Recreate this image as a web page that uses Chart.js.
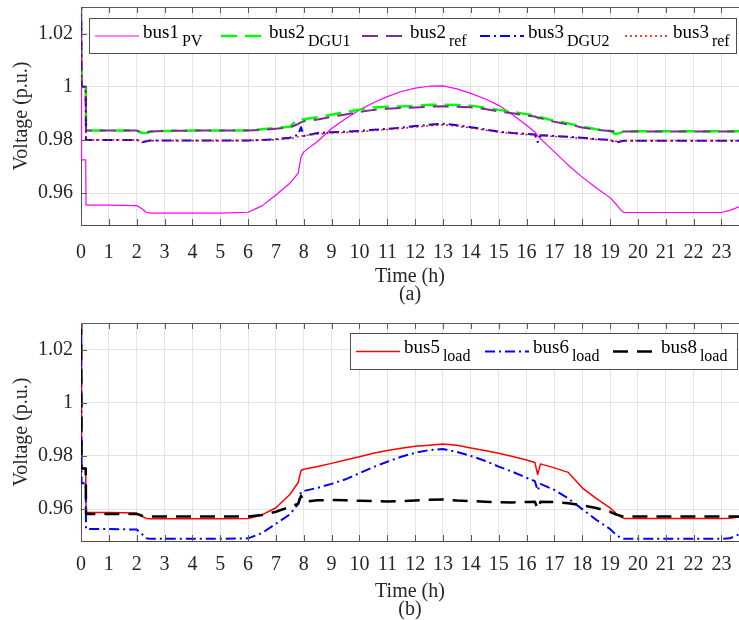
<!DOCTYPE html>
<html>
<head>
<meta charset="utf-8">
<script src="https://cdn.jsdelivr.net/npm/chart.js@4/dist/chart.umd.min.js"></script>
<style>
  html, body { margin: 0; padding: 0; background: #fff; }
  #wrap { position: relative; width: 739px; height: 620px; overflow: hidden; background: #fff; }
  #wrap canvas { position: absolute; left: 0; }
</style>
</head>
<body>
<div id="wrap">
  <canvas id="panelA" width="739" height="310" style="top:0px"></canvas>
  <canvas id="panelB" width="739" height="310" style="top:310px"></canvas>
</div>
<script>
// Sample times (h), shared by every series below
const hours = [
  0, 0.02, 0.17, 0.18,
  1, 2, 2.2, 2.35, 2.5, 3, 4, 5, 6,
  6.5, 7, 7.5, 7.8, 7.9, 8, 8.5, 9, 9.5, 10,
  10.5, 11, 11.5, 12, 12.5, 13, 13.5, 14, 14.5, 15,
  15.5, 16, 16.3, 16.4, 16.5, 17, 17.5, 18, 18.5, 19,
  19.2, 19.4, 19.5, 20, 21, 22, 23, 23.3, 23.63
];

const hourTicks = [0, 1, 2, 3, 4, 5, 6, 7, 8, 9, 10, 11, 12, 13, 14, 15, 16, 17, 18, 19, 20, 21, 22, 23];
const voltTicks = [0.96, 0.98, 1, 1.02];
const voltTickLabels = ['0.96', '0.98', '1', '1.02'];

// (a) source / reference bus voltages (p.u.)
const bus1PV = [
  1.000, 0.9725, 0.9725, 0.9555,
  0.9555, 0.9553, 0.9540, 0.9527, 0.9525, 0.9525, 0.9525, 0.9525, 0.9528,
  0.9552, 0.9593, 0.9637, 0.9675, 0.9735, 0.9755, 0.9795, 0.9843, 0.9880, 0.9913,
  0.9940, 0.9963, 0.9982, 0.9995, 1.0002, 1.0003, 0.9992, 0.9975, 0.9955, 0.9930,
  0.9895, 0.9855, 0.9830, 0.9815, 0.9805, 0.9755, 0.9705, 0.9660, 0.9620, 0.9583,
  0.9560, 0.9535, 0.9527, 0.9527, 0.9527, 0.9527, 0.9527, 0.9535, 0.9548
];
const bus2DGU1 = [
  1.040, 1.000, 1.000, 0.9835,
  0.9835, 0.9835, 0.9826, 0.9826, 0.9832, 0.9834, 0.9835, 0.9835, 0.9836,
  0.9840, 0.9845, 0.9850, 0.9878, 0.9876, 0.9878, 0.9885, 0.9895, 0.9905, 0.9914,
  0.9922, 0.9925, 0.9926, 0.9928, 0.9932, 0.9933, 0.9931, 0.9929, 0.9922, 0.9913,
  0.9905, 0.9897, 0.9892, 0.9878, 0.9885, 0.9872, 0.9862, 0.9850, 0.9840, 0.9834,
  0.9822, 0.9828, 0.9832, 0.9833, 0.9833, 0.9833, 0.9833, 0.9833, 0.9833
];
const bus2ref = [
  1.040, 1.000, 1.000, 0.9835,
  0.9835, 0.9835, 0.9828, 0.9828, 0.9832, 0.9834, 0.9835, 0.9835, 0.9835,
  0.9838, 0.9842, 0.9847, 0.9860, 0.9866, 0.9870, 0.9877, 0.9887, 0.9896, 0.9905,
  0.9913, 0.9917, 0.9920, 0.9922, 0.9925, 0.9927, 0.9925, 0.9923, 0.9916, 0.9907,
  0.9900, 0.9892, 0.9888, 0.9884, 0.9882, 0.9868, 0.9858, 0.9847, 0.9838, 0.9834,
  0.9832, 0.9832, 0.9832, 0.9832, 0.9832, 0.9832, 0.9832, 0.9832, 0.9832
];
const bus3DGU2 = [
  1.040, 1.000, 1.000, 0.9800,
  0.9800, 0.9800, 0.9791, 0.9795, 0.9798, 0.9798, 0.9798, 0.9798, 0.9798,
  0.9800, 0.9803, 0.9808, 0.9820, 0.9848, 0.9815, 0.9826, 0.9829, 0.9831, 0.9834,
  0.9838, 0.9842, 0.9846, 0.9852, 0.9857, 0.9861, 0.9855, 0.9848, 0.9840, 0.9831,
  0.9826, 0.9823, 0.9820, 0.9792, 0.9818, 0.9815, 0.9812, 0.9808, 0.9803, 0.9800,
  0.9789, 0.9795, 0.9797, 0.9797, 0.9797, 0.9797, 0.9797, 0.9797, 0.9797
];
const bus3ref = [
  1.040, 1.000, 1.000, 0.9800,
  0.9800, 0.9800, 0.9793, 0.9795, 0.9797, 0.9797, 0.9797, 0.9797, 0.9797,
  0.9799, 0.9801, 0.9805, 0.9812, 0.9815, 0.9816, 0.9822, 0.9826, 0.9828, 0.9831,
  0.9835, 0.9839, 0.9843, 0.9848, 0.9853, 0.9857, 0.9852, 0.9845, 0.9837, 0.9829,
  0.9824, 0.9820, 0.9818, 0.9815, 0.9816, 0.9813, 0.9810, 0.9806, 0.9802, 0.9799,
  0.9795, 0.9796, 0.9797, 0.9797, 0.9797, 0.9797, 0.9797, 0.9797, 0.9797
];

// (b) load bus voltages (p.u.)
const bus5load = [
  1.040, 0.9753, 0.9753, 0.9587,
  0.9587, 0.9585, 0.9572, 0.9565, 0.9564, 0.9564, 0.9564, 0.9564, 0.9565,
  0.9578, 0.9605, 0.9655, 0.9700, 0.9745, 0.9750, 0.9760, 0.9772, 0.9785, 0.9797,
  0.9810, 0.9820, 0.9829, 0.9836, 0.9840, 0.9845, 0.9840, 0.9830, 0.9820, 0.9810,
  0.9798, 0.9785, 0.9775, 0.9730, 0.9770, 0.9755, 0.9738, 0.9680, 0.9640, 0.9605,
  0.9585, 0.9570, 0.9565, 0.9565, 0.9565, 0.9565, 0.9565, 0.9566, 0.9570
];
const bus6load = [
  1.040, 0.9697, 0.9697, 0.9525,
  0.9525, 0.9523, 0.9505, 0.9490, 0.9488, 0.9488, 0.9488, 0.9488, 0.9490,
  0.9510, 0.9545, 0.9580, 0.9620, 0.9665, 0.9668, 0.9680, 0.9695, 0.9712, 0.9735,
  0.9758, 0.9778, 0.9797, 0.9812, 0.9822, 0.9826, 0.9815, 0.9800, 0.9782, 0.9760,
  0.9740, 0.9718, 0.9705, 0.9670, 0.9695, 0.9672, 0.9640, 0.9600, 0.9560, 0.9525,
  0.9505, 0.9490, 0.9488, 0.9488, 0.9488, 0.9488, 0.9488, 0.9490, 0.9505
];
const bus8load = [
  1.040, 0.9753, 0.9753, 0.9582,
  0.9582, 0.9582, 0.9575, 0.9572, 0.9572, 0.9572, 0.9572, 0.9572, 0.9572,
  0.9578, 0.9590, 0.9608, 0.9620, 0.9650, 0.9628, 0.9633, 0.9634, 0.9633, 0.9631,
  0.9630, 0.9629, 0.9630, 0.9632, 0.9635, 0.9636, 0.9632, 0.9630, 0.9628, 0.9626,
  0.9625, 0.9627, 0.9628, 0.9600, 0.9628, 0.9627, 0.9622, 0.9614, 0.9604, 0.9590,
  0.9580, 0.9574, 0.9572, 0.9572, 0.9572, 0.9572, 0.9572, 0.9572, 0.9572
];

// Legend names, split into base text and subscript
const namesA = ['bus1', 'bus2', 'bus2', 'bus3', 'bus3'];
const subsA = ['PV', 'DGU1', 'ref', 'DGU2', 'ref'];
const namesB = ['bus5', 'bus6', 'bus8'];
const subsB = ['load', 'load', 'load'];

const SERIF = '"Liberation Serif", "Times New Roman", serif';
const INK = '#262626';

function series(values) {
  return hours.map((h, i) => ({ x: h, y: values[i] }));
}

function lineSet(values, color, width, dash, order, extra) {
  return Object.assign({
    data: series(values),
    borderColor: color,
    borderWidth: width,
    borderDash: dash,
    order: order,
    pointRadius: 0,
    tension: 0,
    fill: false,
    borderJoinStyle: 'round'
  }, extra || {});
}

// Box outline on top plus inward tick marks
const framePlugin = {
  id: 'frame',
  afterDraw(chart) {
    const { ctx, chartArea: a, scales } = chart;
    const x = scales.x, y = scales.y;
    ctx.save();
    ctx.strokeStyle = '#5a5a5a';
    ctx.lineWidth = 1;
    ctx.beginPath();
    ctx.moveTo(a.left, a.top + 0.5);
    ctx.lineTo(a.right, a.top + 0.5);
    hourTicks.forEach(h => {
      const px = Math.round(x.getPixelForValue(h)) + 0.5;
      ctx.moveTo(px, a.bottom);
      ctx.lineTo(px, a.bottom - 6);
      ctx.moveTo(px, a.top);
      ctx.lineTo(px, a.top + 6);
    });
    voltTicks.forEach(v => {
      const py = Math.round(y.getPixelForValue(v)) + 0.5;
      ctx.moveTo(a.left, py);
      ctx.lineTo(a.left + 6, py);
    });
    ctx.stroke();
    ctx.restore();
  }
};

// Boxed legend with subscripted names
const subLegendPlugin = {
  id: 'subLegend',
  afterDraw(chart, args, opts) {
    const ctx = chart.ctx;
    const b = opts.box;
    ctx.save();
    ctx.fillStyle = '#ffffff';
    ctx.fillRect(b.x, b.y, b.w, b.h);
    ctx.strokeStyle = '#4d4d4d';
    ctx.lineWidth = 1;
    ctx.strokeRect(b.x + 0.5, b.y + 0.5, b.w, b.h);
    const midY = b.y + b.h / 2 + 0.5;
    opts.names.forEach((name, i) => {
      const ds = chart.data.datasets[i];
      const x0 = opts.sampleX[i];
      ctx.strokeStyle = ds.borderColor;
      ctx.lineWidth = ds.borderWidth;
      ctx.setLineDash(ds.borderDash || []);
      ctx.lineDashOffset = 0;
      ctx.beginPath();
      ctx.moveTo(x0, midY);
      ctx.lineTo(x0 + 44, midY);
      ctx.stroke();
      ctx.setLineDash([]);
      ctx.fillStyle = '#000';
      ctx.textBaseline = 'alphabetic';
      ctx.textAlign = 'left';
      ctx.font = '19px ' + SERIF;
      const tx = x0 + 48;
      ctx.fillText(name, tx, b.y + 20);
      const w = ctx.measureText(name).width;
      ctx.font = '16px ' + SERIF;
      ctx.fillText(opts.subs[i], tx + w + 3, b.y + 28);
    });
    ctx.restore();
  }
};

function makePanel(id, datasets, cfg) {
  return new Chart(document.getElementById(id), {
    type: 'line',
    data: { datasets: datasets },
    options: {
      responsive: false,
      animation: false,
      devicePixelRatio: 1,
      layout: { padding: { top: cfg.top, left: 0, right: 0, bottom: 0 } },
      plugins: {
        legend: { display: false },
        tooltip: { enabled: false },
        subLegend: cfg.legend
      },
      scales: {
        x: {
          type: 'linear',
          min: 0,
          max: 23.63,
          afterBuildTicks: s => { s.ticks = hourTicks.map(v => ({ value: v })); },
          afterFit: s => {
            s.height = cfg.xHeight;
            s.paddingLeft = 0;
            s.paddingRight = 0;
          },
          grid: { color: '#e3e3e3', lineWidth: 1, drawTicks: false },
          border: { color: '#4d4d4d', width: 1 },
          ticks: {
            padding: cfg.tickPad, color: INK, maxRotation: 0, autoSkip: false,
            font: { family: SERIF, size: 20 },
            callback: v => String(v)
          },
          title: {
            display: true,
            text: ['Time (h)', cfg.tag],
            color: INK,
            font: { family: SERIF, size: 20, lineHeight: '18px' },
            padding: { top: 0, bottom: cfg.titlePad }
          }
        },
        y: {
          min: 0.948,
          max: 1.03,
          afterBuildTicks: s => { s.ticks = voltTicks.map(v => ({ value: v })); },
          afterFit: s => {
            s.width = 81;
            s.paddingTop = 0;
            s.paddingBottom = 0;
          },
          grid: { color: '#e3e3e3', lineWidth: 1, drawTicks: false },
          border: { color: '#4d4d4d', width: 1 },
          ticks: {
            padding: 8, color: INK,
            font: { family: SERIF, size: 20 },
            callback: (v, i) => voltTickLabels[i]
          },
          title: {
            display: true,
            text: 'Voltage (p.u.)',
            color: INK,
            font: { family: SERIF, size: 20 },
            padding: { top: 10, bottom: 0 }
          }
        }
      }
    },
    plugins: [framePlugin, subLegendPlugin]
  });
}

makePanel('panelA', [
  lineSet(bus1PV, '#ff00ff', 1.2, [], 5),
  lineSet(bus2DGU1, '#00ff00', 2.5, [16, 8], 4, { borderDashOffset: 10 }),
  lineSet(bus2ref, '#7e2f8e', 2, [16, 8], 3),
  lineSet(bus3DGU2, '#0000ff', 2, [10, 4, 2, 4], 2),
  lineSet(bus3ref, '#ff0000', 1.5, [2, 3], 1)
], {
  top: 7, xHeight: 85, tickPad: 16, titlePad: 6, tag: '(a)',
  legend: {
    box: { x: 89, y: 18, w: 647, h: 35 },
    sampleX: [95, 221, 362, 480, 625],
    names: namesA, subs: subsA
  }
});

makePanel('panelB', [
  lineSet(bus5load, '#ff0000', 1.5, [], 3),
  lineSet(bus6load, '#0000ff', 2, [10, 4, 2, 4], 2),
  lineSet(bus8load, '#000000', 2.5, [15, 9], 1)
], {
  top: 13, xHeight: 79, tickPad: 12, titlePad: 1, tag: '(b)',
  legend: {
    box: { x: 350, y: 23, w: 387, h: 36 },
    sampleX: [356, 485, 613],
    names: namesB, subs: subsB
  }
});
</script>
</body>
</html>
